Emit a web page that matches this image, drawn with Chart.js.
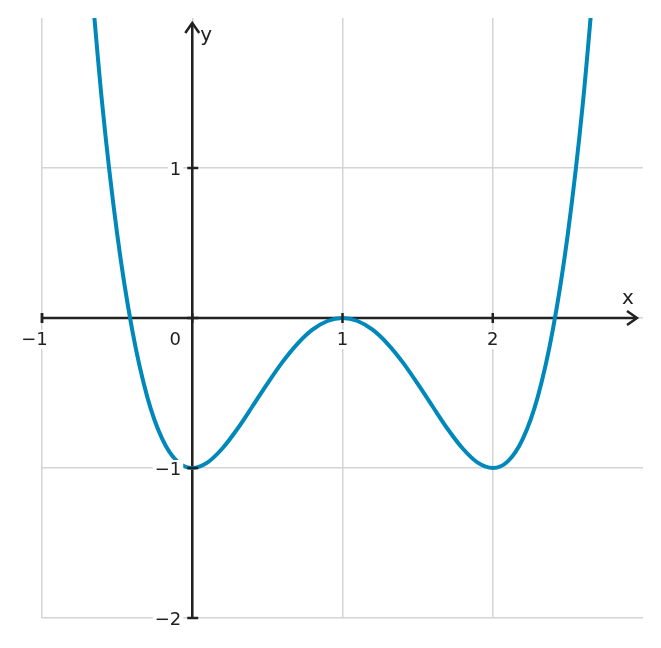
<!DOCTYPE html>
<html>
<head>
<meta charset="utf-8">
<script src="https://cdn.jsdelivr.net/npm/chart.js@4.4.1/dist/chart.umd.min.js"></script>
<style>
  html, body { margin: 0; padding: 0; background: #ffffff; }
  #wrap { width: 661px; height: 648px; }
</style>
</head>
<body>
<div id="wrap"><canvas id="c" width="661" height="648"></canvas></div>
<script>
// Curve samples
const xValues = [-0.7, -0.6, -0.5, -0.4, -0.3, -0.2, -0.1, 0.0, 0.1, 0.2, 0.3, 0.4, 0.5, 0.6, 0.7, 0.8, 0.9, 1.0,
                 1.1, 1.2, 1.3, 1.4, 1.5, 1.6, 1.7, 1.8, 1.9, 2.0, 2.1, 2.2, 2.3, 2.4, 2.5, 2.6, 2.7];
const yValues = [2.572, 1.434, 0.5625, -0.078, -0.524, -0.806, -0.956, -1.0, -0.964, -0.870, -0.740, -0.590, -0.4375, -0.294, -0.172, -0.078, -0.020, 0.0,
                 -0.020, -0.078, -0.172, -0.294, -0.4375, -0.590, -0.740, -0.870, -0.964, -1.0, -0.956, -0.806, -0.524, -0.078, 0.5625, 1.434, 2.572];

// Axis ticks and labels
const xTicks = [-1, 1, 2];
const xTickLabels = ['\u22121', '1', '2'];
const yTicks = [1, -1, -2];
const yTickLabels = ['1', '\u22121', '\u22122'];
const originLabel = '0';
const xAxisLabel = 'x';
const yAxisLabel = 'y';

const points = xValues.map((x, i) => ({ x: x, y: yValues[i] }));

const AXIS = '#222222';
const FONT = '"DejaVu Sans", sans-serif';
const TICK_FONT = '18px ' + FONT;

function labelWithBg(ctx, text, x, y, align) {
  ctx.font = TICK_FONT;
  ctx.textBaseline = 'middle';
  ctx.textAlign = align;
  const w = ctx.measureText(text).width;
  let left = align === 'right' ? x - w : (align === 'center' ? x - w / 2 : x);
  ctx.fillStyle = '#ffffff';
  ctx.fillRect(left - 2, y - 9, w + 4, 19);
  ctx.fillStyle = AXIS;
  ctx.fillText(text, x, y + 1);
}

const axesPlugin = {
  id: 'axesPlugin',
  beforeDatasetsDraw(chart) {
    const ctx = chart.ctx;
    const xs = chart.scales.x, ys = chart.scales.y;
    const x0 = xs.getPixelForValue(0), y0 = ys.getPixelForValue(0);
    const left = xs.getPixelForValue(xs.min), right = xs.getPixelForValue(xs.max);
    const top = ys.getPixelForValue(ys.max), bottom = ys.getPixelForValue(ys.min);
    ctx.save();
    ctx.strokeStyle = AXIS;
    ctx.lineWidth = 2.5;
    ctx.lineCap = 'butt';
    ctx.beginPath();
    ctx.moveTo(left, y0);
    ctx.lineTo(right - 6, y0);
    ctx.stroke();
    ctx.beginPath();
    ctx.moveTo(x0, bottom);
    ctx.lineTo(x0, top + 5);
    ctx.stroke();
    ctx.lineJoin = 'miter';
    ctx.beginPath();
    ctx.moveTo(right - 16, y0 - 7);
    ctx.lineTo(right - 6, y0);
    ctx.lineTo(right - 16, y0 + 7);
    ctx.stroke();
    ctx.beginPath();
    ctx.moveTo(x0 - 7, top + 15);
    ctx.lineTo(x0, top + 5);
    ctx.lineTo(x0 + 7, top + 15);
    ctx.stroke();
    ctx.restore();
  },
  afterDatasetsDraw(chart) {
    const ctx = chart.ctx;
    const xs = chart.scales.x, ys = chart.scales.y;
    const x0 = xs.getPixelForValue(0), y0 = ys.getPixelForValue(0);
    const right = xs.getPixelForValue(xs.max), top = ys.getPixelForValue(ys.max);
    ctx.save();
    ctx.strokeStyle = AXIS;
    ctx.lineWidth = 2.5;
    [xs.min].concat(xTicks).concat([0]).forEach(v => {
      const px = xs.getPixelForValue(v);
      ctx.beginPath();
      ctx.moveTo(px, y0 - 5);
      ctx.lineTo(px, y0 + 5);
      ctx.stroke();
    });
    yTicks.concat([0]).forEach(v => {
      const py = ys.getPixelForValue(v);
      ctx.beginPath();
      ctx.moveTo(x0 - 5, py);
      ctx.lineTo(x0 + 6, py);
      ctx.stroke();
    });
    xTicks.forEach((v, i) => {
      const txt = xTickLabels[i];
      const px = xs.getPixelForValue(v);
      ctx.font = TICK_FONT;
      const digitW = ctx.measureText(txt.replace('\u2212', '')).width;
      labelWithBg(ctx, txt, px + digitW / 2, y0 + 21, 'right');
    });
    yTicks.forEach((v, i) => {
      labelWithBg(ctx, yTickLabels[i], x0 - 11, ys.getPixelForValue(v) + 1, 'right');
    });
    labelWithBg(ctx, originLabel, x0 - 17, y0 + 21, 'center');
    ctx.font = '20px ' + FONT;
    ctx.fillStyle = AXIS;
    ctx.textBaseline = 'middle';
    ctx.textAlign = 'center';
    ctx.fillText(xAxisLabel, right - 15, y0 - 19);
    ctx.fillText(yAxisLabel, x0 + 14, top + 18);
    ctx.restore();
  }
};

new Chart(document.getElementById('c'), {
  type: 'scatter',
  data: {
    datasets: [{
      data: points,
      showLine: true,
      borderColor: '#0088bb',
      borderWidth: 4,
      pointRadius: 0,
      cubicInterpolationMode: 'monotone',
      fill: false
    }]
  },
  options: {
    responsive: false,
    animation: false,
    devicePixelRatio: 1,
    layout: { padding: { left: 42, right: 18, top: 18, bottom: 30 } },
    plugins: { legend: { display: false }, tooltip: { enabled: false } },
    scales: {
      x: {
        type: 'linear', min: -1, max: 3,
        ticks: { display: false, stepSize: 1 },
        border: { display: false },
        grid: {
          drawTicks: false,
          lineWidth: 1.5,
          color: c => (c.tick && c.tick.value === 3) ? 'rgba(0,0,0,0)' : '#d4d4d4'
        }
      },
      y: {
        type: 'linear', min: -2, max: 2,
        ticks: { display: false, stepSize: 1 },
        border: { display: false },
        grid: {
          drawTicks: false,
          lineWidth: 1.5,
          color: c => (c.tick && c.tick.value === 2) ? 'rgba(0,0,0,0)' : '#d4d4d4'
        }
      }
    }
  },
  plugins: [axesPlugin]
});
</script>
</body>
</html>
